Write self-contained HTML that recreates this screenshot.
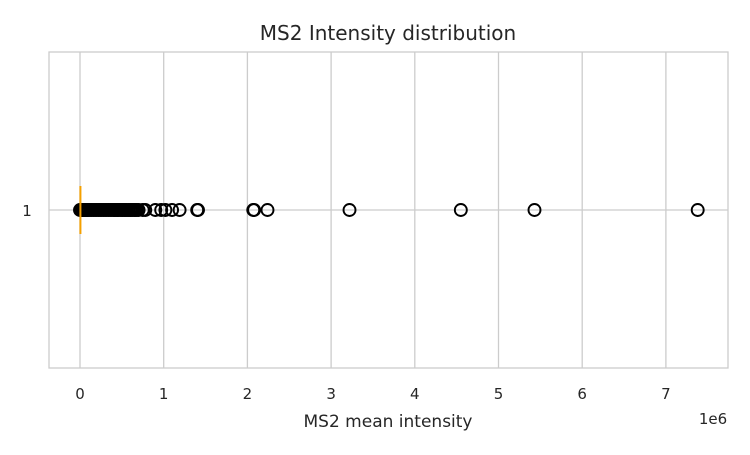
<!DOCTYPE html>
<html><head><meta charset="utf-8"><style>
body{margin:0;background:#fff}
svg text{font-family:"DejaVu Sans","Liberation Sans",sans-serif;fill:#262626}
</style></head><body>
<svg id="chart" width="750" height="450">
<text x="388" y="40" text-anchor="middle" font-size="20">MS2 Intensity distribution</text>
<g id="grid"></g>
<rect x="49" y="52" width="679" height="316" fill="none" stroke="#cccccc" stroke-width="1.3"/>
<g id="marks"></g>
<text x="27" y="216" text-anchor="middle" font-size="15">1</text>
<text x="388" y="427" text-anchor="middle" font-size="17">MS2 mean intensity</text>
<text x="713" y="424" text-anchor="middle" font-size="15">1e6</text>
</svg>
<script>
const xTicks=[0,1,2,3,4,5,6,7];
const medianValue=0.005;
const outliers=[0.0,0.01,0.02,0.03,0.04,0.05,0.06,0.07,0.08,0.09,0.1,0.12,0.14,0.16,0.18,0.2,0.22,0.24,0.26,0.28,0.3,0.32,0.34,0.36,0.38,0.4,0.41,0.42,0.44,0.45,0.46,0.48,0.5,0.51,0.53,0.54,0.56,0.58,0.6,0.61,0.63,0.65,0.66,0.68,0.7,0.75,0.78,0.9,0.97,1.02,1.1,1.19,1.4,1.41,2.07,2.08,2.24,3.22,4.55,5.43,7.38];
const ns="http://www.w3.org/2000/svg";
const xs=v=>80+v*83.7;
const yC=210;
const grid=document.getElementById('grid'),marks=document.getElementById('marks'),svg=document.getElementById('chart');
function mk(t,a,p){const e=document.createElementNS(ns,t);for(const k in a)e.setAttribute(k,a[k]);p.appendChild(e);return e;}
let hl=mk('line',{x1:49,x2:728,y1:yC,y2:yC,stroke:'#cccccc','stroke-width':1.3},grid);


xTicks.forEach(t=>{
 const l=mk('line',{x1:xs(t),x2:xs(t),y1:52,y2:368,stroke:'#cccccc','stroke-width':1.3},grid);
 
 
 const tx=mk('text',{x:xs(t),y:399,'text-anchor':'middle','font-size':15},svg);
 tx.textContent=t;
 
 
});
outliers.forEach(v=>{
 const c=mk('circle',{cx:xs(v),cy:yC,r:6,fill:'none',stroke:'#000','stroke-width':1.9},marks);
 
 
});
const m=mk('line',{x1:xs(medianValue),x2:xs(medianValue),y1:186,y2:234,stroke:'#f5a000','stroke-width':2},marks);


</script>
</body></html>
